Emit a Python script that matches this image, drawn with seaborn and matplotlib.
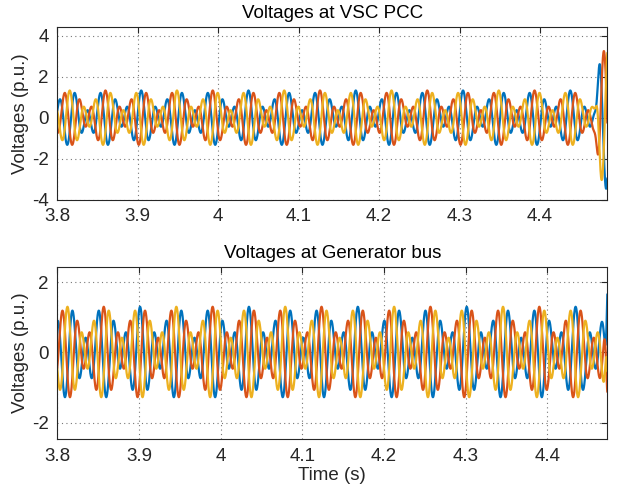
import numpy as np
import pandas as pd
import matplotlib
matplotlib.use("Agg")
import matplotlib.pyplot as plt
import seaborn as sns

# ---- values ----
phases = ["a", "b", "c"]
colors = ["#0072BD", "#D95319", "#EDB120"]
# per panel: [top panel (VSC PCC), bottom panel (Generator bus)]
titles = ["Voltages at VSC PCC", "Voltages at Generator bus"]
t_start = [3.8, 3.8]
t_end = [4.4837, 4.4735]
ylims = [(-4.0, 4.45), (-2.47, 2.44)]
yticks = [[-4, -2, 0, 2, 4], [-2, 0, 2]]
xticks = [3.8, 3.9, 4.0, 4.1, 4.2, 4.3, 4.4]
xticklabels = ["3.8", "3.9", "4", "4.1", "4.2", "4.3", "4.4"]
f_fund = [60.0, 60.0]          # fundamental frequency (Hz)
f_sub = [37.5, 37.5]           # sub-synchronous component frequency (Hz)
amp_fund = [0.86, 0.86]        # fundamental amplitude (p.u.)
amp_sub = [0.48, 0.44]         # sub-synchronous amplitude (p.u.)
t_flat_a = [3.971, 3.968]      # a waist where phase a is flat (s)
# end-of-record growth (60 Hz positive sequence)
burst_amp = [3.0, 4.6]
burst_mid = [4.4706, 4.4730]
burst_width = [0.0016, 0.0012]
burst_peak_a = [4.4748, 4.4747]

dt = 1e-4


def build(i):
    t = np.arange(t_start[i], t_end[i] + dt, dt)
    rows = []
    w1 = 2 * np.pi * f_fund[i]
    w2 = 2 * np.pi * f_sub[i]
    tf = t_flat_a[i]
    burst = burst_amp[i] / (1 + np.exp(-(t - burst_mid[i]) / burst_width[i]))
    for k, ph in enumerate(phases):
        th = 2 * np.pi * k / 3
        v = (amp_fund[i] * np.cos(w1 * (t - tf) - th)
             + amp_sub[i] * np.cos(w2 * (t - tf) - th + np.pi)
             + burst * np.cos(w1 * (t - burst_peak_a[i]) - th))
        rows.append(pd.DataFrame({"t": t, "v": v, "phase": ph}))
    return pd.concat(rows, ignore_index=True)


sns.set_theme(style="white")
plt.rcParams["font.family"] = ["Liberation Sans", "DejaVu Sans"]

fig = plt.figure(figsize=(6.22, 5.0), dpi=100)
positions = [[0.0921, 0.60, 0.8843, 0.3466], [0.0921, 0.1214, 0.8843, 0.3452]]

for i in range(2):
    ax = fig.add_axes(positions[i])
    df = build(i)
    sns.lineplot(data=df, x="t", y="v", hue="phase", palette=colors,
                 estimator=None, sort=False, linewidth=1.6, legend=False, ax=ax)
    ax.set_xlim(t_start[i], t_end[i])
    ax.set_ylim(*ylims[i])
    ax.set_xticks(xticks)
    ax.set_xticklabels(xticklabels)
    ax.set_yticks(yticks[i])
    ax.set_yticklabels([str(v) for v in yticks[i]])
    ax.grid(True, linestyle=(0, (1, 3)), color="#555555", linewidth=0.8, alpha=0.8)
    ax.tick_params(direction="in", length=4, width=0.8, labelsize=13.5,
                   top=True, right=True, colors="#262626", pad=6)
    for s in ax.spines.values():
        s.set_color("#262626")
        s.set_linewidth(0.8)
    ax.set_title(titles[i], fontsize=13.5, pad=6, color="#000000")
    ax.set_ylabel("Voltages (p.u.)", fontsize=13.5, labelpad=2)
    ax.set_xlabel("Time (s)" if i == 1 else "", fontsize=13.5, labelpad=2)

fig.savefig("out.png", dpi=100)
